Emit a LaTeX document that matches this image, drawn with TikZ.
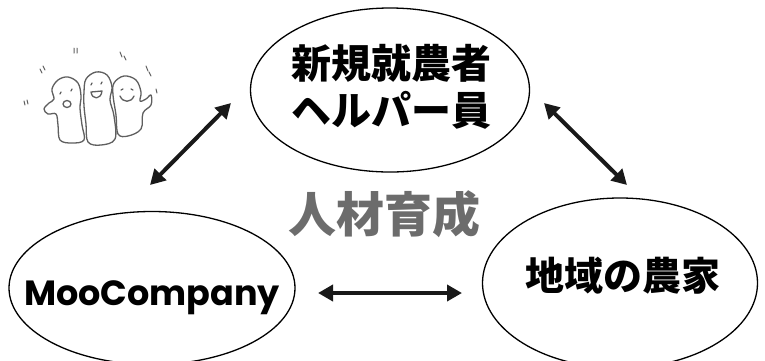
\documentclass[tikz,border=0pt]{standalone}
\usepackage{fontspec}
\usetikzlibrary{shapes.geometric,arrows.meta}
\newfontfamily\jpfont{Noto Sans CJK JP}
\newfontfamily\latinfont{Poppins}
\definecolor{labelgray}{RGB}{108,108,108}
\definecolor{sketch}{RGB}{95,95,95}
\begin{document}
\begin{tikzpicture}[x=1pt,y=-1pt,
  party/.style={ellipse,draw=black,line width=1.3pt,inner sep=0pt},
  jptext/.style={font=\jpfont\bfseries\fontsize{#1}{47}\selectfont,align=center,inner sep=0pt},
  link/.style={line width=4pt,{Triangle[length=15pt,width=16pt]}-{Triangle[length=15pt,width=16pt]},draw=black!90},
  doodle/.style={draw=sketch,line width=1.3pt,line join=round,line cap=round},
  blob/.style={doodle,fill=white}]
\useasboundingbox (0,0) rectangle (765,360);

% three partners
\node[party,minimum width=279pt,minimum height=164pt] (helper) at (390,90) {};
\node[party,minimum width=286pt,minimum height=153pt] (moo) at (152,288) {};
\node[party,minimum width=275pt,minimum height=170pt] (farm) at (620,283) {};

\node[jptext=40] (helpertext) at (391,87) {新規就農者\\ヘルパー員};
\node[font=\latinfont\bfseries\fontsize{35}{40}\selectfont,inner sep=0pt,anchor=base]
  (mootext) at (152,305) {MooCompany};
\node[jptext=39] (farmtext) at (623,276) {地域の農家};

% central caption
\node[jptext=48,text=labelgray] (cap) at (384,214) {人材育成};

% arrow end points
\coordinate (a1) at (231,103);
\coordinate (a2) at (150,185);
\coordinate (b1) at (544,103);
\coordinate (b2) at (627,185);
\coordinate (c1) at (318,293);
\coordinate (c2) at (462,293);
\draw[link] (a1) -- (a2);
\draw[link] (b1) -- (b2);
\draw[link] (c1) -- (c2);

% cheering trio
\draw[blob] plot[smooth cycle,tension=0.6] coordinates
  {(84,92) (86,79) (96,72) (107,75) (112,87) (110,100) (114,116) (115,139) (101,145) (88,142) (86,124) (84,106)};
\draw[blob] plot[smooth cycle,tension=0.6] coordinates
  {(44,109) (49,103) (54,99) (52,89) (58,80) (68,77) (78,83) (81,96) (80,108) (82,125) (84,140) (72,143) (60,140) (58,125) (56,114) (48,114)};
\draw[blob] plot[smooth cycle,tension=0.6] coordinates
  {(113,95) (114,83) (124,76) (136,80) (141,92) (140,101) (146,99) (151,95) (151,105) (143,113) (141,129) (128,136) (118,134) (116,115)};
% faces
\draw[doodle] (60,94) -- (61,92) (71,91) -- (72,89);
\draw[doodle] (67,104) ellipse (4pt and 3.5pt);
\draw[doodle] (91,85) -- (92,83) (101,84) -- (102,82);
\draw[doodle] (91,92) .. controls (92,100) and (101,100) .. (102,91) -- cycle;
\draw[doodle] (121,90) -- (123,89) (131,89) -- (133,90);
\draw[doodle] (120,96) .. controls (123,103) and (131,103) .. (134,96);
% cheering marks
\draw[doodle,line width=1pt]
  (24,101) -- (25,105) (27,100) -- (28,104)
  (40,69) -- (42,73) (43,66) -- (45,70)
  (74,48) -- (74,53) (77,48) -- (77,53)
  (120,52) -- (122,57) (124,56) -- (126,60)
  (146,66) -- (148,71) (149,72) -- (151,76)
  (156,89) -- (157,93);
\end{tikzpicture}
\end{document}
